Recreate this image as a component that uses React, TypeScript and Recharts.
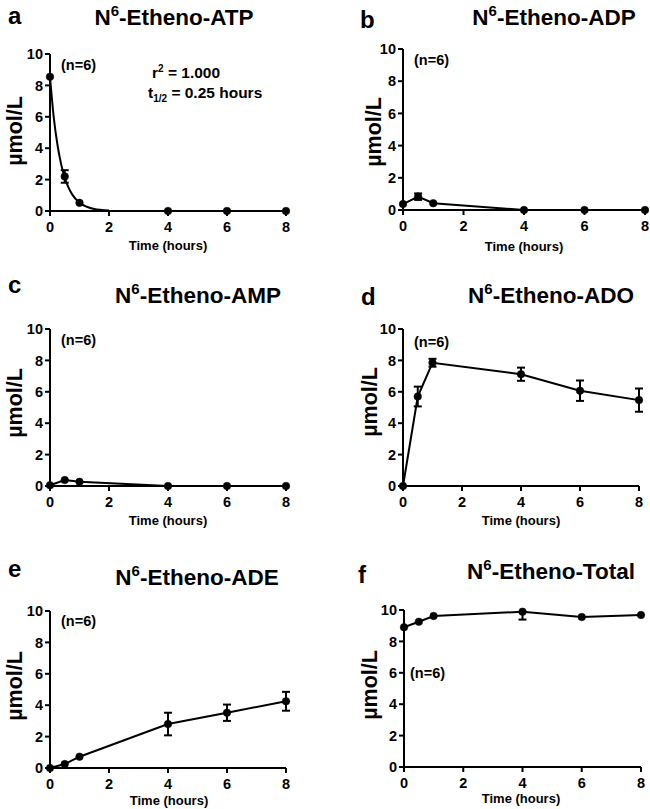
import React from 'react';
import { LineChart, Line, XAxis, YAxis, ErrorBar } from 'recharts';

const timeHours = [0, 0.5, 1, 4, 6, 8];
const xTicks = [0, 2, 4, 6, 8];
const yTicks = [0, 2, 4, 6, 8, 10];

const atpMean = [8.55, 2.2, 0.52, 0, 0, 0];
const atpErr = [null, 0.4, null, null, null, null];
const atpFitTime = [0, 0.125, 0.25, 0.375, 0.5, 0.625, 0.75, 1, 1.25, 1.5, 1.75, 2];
const atpFitValue = [8.55, 6.0, 4.25, 3.0, 2.12, 1.5, 1.06, 0.53, 0.27, 0.13, 0.07, 0.03];

const adpMean = [0.37, 0.83, 0.42, 0, 0, 0];
const adpErr = [null, 0.2, null, null, null, null];

const ampMean = [0.05, 0.38, 0.27, 0, 0, 0];
const ampErr = [null, null, null, null, null, null];

const adoMean = [0, 5.7, 7.85, 7.12, 6.07, 5.47];
const adoErr = [null, 0.63, 0.25, 0.42, 0.65, 0.74];

const adeMean = [0, 0.25, 0.72, 2.8, 3.52, 4.25];
const adeErr = [null, null, null, 0.72, 0.52, 0.6];

const totalMean = [8.9, 9.25, 9.62, 9.89, 9.55, 9.68];
const totalErr: any[] = [null, null, null, [0.5, 0], null, null];

const FONT = '"Liberation Sans", Arial, Helvetica, sans-serif';

const build = (mean: number[], err: any[]) =>
  timeHours.map((t, i) => ({ t, v: mean[i], e: err[i] }));

type PanelCfg = {
  key: string;
  letter: string;
  title: string;
  panelX: number;
  plot: [number, number, number, number]; // left, right, top, bottom
  data: { t: number; v: number; e: any }[];
  connect: boolean;
  fit?: { t: number; v: number }[];
  letterPos: [number, number];
  titlePos: [number, number];
  nPos: [number, number];
  yLabPos: [number, number];
  xLabPos: [number, number];
};

const panels: PanelCfg[] = [
  {
    key: 'a', letter: 'a', title: 'ATP', panelX: 0, plot: [50, 286, 54, 211],
    data: build(atpMean, atpErr), connect: false,
    fit: atpFitTime.map((t, i) => ({ t, v: atpFitValue[i] })),
    letterPos: [8, 24], titlePos: [174, 25], nPos: [61, 65], yLabPos: [15, 131], xLabPos: [168, 245],
  },
  {
    key: 'b', letter: 'b', title: 'ADP', panelX: 325, plot: [403, 645, 49, 210],
    data: build(adpMean, adpErr), connect: true,
    letterPos: [360, 28], titlePos: [554, 25], nPos: [414, 60], yLabPos: [374, 132], xLabPos: [524, 246],
  },
  {
    key: 'c', letter: 'c', title: 'AMP', panelX: 0, plot: [50, 286, 329, 486],
    data: build(ampMean, ampErr), connect: true,
    letterPos: [8, 293], titlePos: [198, 303], nPos: [61, 340], yLabPos: [15, 403], xLabPos: [168, 520],
  },
  {
    key: 'd', letter: 'd', title: 'ADO', panelX: 325, plot: [403, 639, 329, 486],
    data: build(adoMean, adoErr), connect: true,
    letterPos: [361, 305], titlePos: [551, 303], nPos: [414, 342], yLabPos: [370, 402], xLabPos: [521, 520],
  },
  {
    key: 'e', letter: 'e', title: 'ADE', panelX: 0, plot: [50, 286, 611, 768],
    data: build(adeMean, adeErr), connect: true,
    letterPos: [8, 577], titlePos: [197, 585], nPos: [61, 621], yLabPos: [15, 686], xLabPos: [169, 800],
  },
  {
    key: 'f', letter: 'f', title: 'Total', panelX: 325, plot: [404, 641, 610, 767],
    data: build(totalMean, totalErr), connect: true,
    letterPos: [358, 583], titlePos: [551, 579], nPos: [410, 673], yLabPos: [370, 685], xLabPos: [521, 798],
  },
];

const tickStyle = { fontSize: 14.5, fontWeight: 'bold', fill: '#000', fontFamily: FONT } as any;

function Panel({ cfg }: { cfg: PanelCfg }) {
  const [pl, pr, pt, pb] = cfg.plot;
  const mTop = 10;
  const xH = 30;
  const mBottom = 2;
  const width = 325;
  const top = pt - mTop;
  const height = pb - pt + mTop + xH + mBottom;
  const yW = pl - cfg.panelX;
  const mRight = cfg.panelX + width - pr;
  return (
    <div style={{ position: 'absolute', left: cfg.panelX, top, width, height }}>
      <LineChart
        width={width}
        height={height}
        margin={{ top: mTop, right: mRight, bottom: mBottom, left: 0 }}
      >
        <XAxis
          type="number"
          dataKey="t"
          domain={[0, 8]}
          ticks={xTicks}
          interval={0}
          height={xH}
          axisLine={{ stroke: '#000', strokeWidth: 2 }}
          tickLine={{ stroke: '#000', strokeWidth: 2 }}
          tickSize={5}
          tickMargin={6}
          tick={tickStyle}
        />
        <YAxis
          type="number"
          domain={[0, 10]}
          ticks={yTicks}
          interval={0}
          width={yW}
          axisLine={{ stroke: '#000', strokeWidth: 2 }}
          tickLine={{ stroke: '#000', strokeWidth: 2 }}
          tickSize={5}
          tickMargin={2}
          tick={tickStyle}
        />
        {cfg.fit && (
          <Line
            data={cfg.fit}
            dataKey="v"
            type="monotone"
            stroke="#000"
            strokeWidth={2}
            dot={false}
            activeDot={false}
            isAnimationActive={false}
          />
        )}
        <Line
          data={cfg.data}
          dataKey="v"
          type="linear"
          stroke={cfg.connect ? '#000' : 'none'}
          strokeWidth={2}
          dot={{ r: 3.8, fill: '#000', stroke: '#000', strokeWidth: 0.5 }}
          activeDot={false}
          isAnimationActive={false}
        >
          <ErrorBar dataKey="e" direction="y" width={4} stroke="#000" strokeWidth={2} />
        </Line>
      </LineChart>
    </div>
  );
}

function Overlay() {
  const bold = { fontFamily: FONT, fontWeight: 'bold', fill: '#000' } as any;
  return (
    <svg
      width={650}
      height={809}
      style={{ position: 'absolute', left: 0, top: 0, pointerEvents: 'none' }}
    >
      {panels.map((p) => (
        <g key={p.key}>
          <text x={p.letterPos[0]} y={p.letterPos[1]} fontSize={24} {...bold}>
            {p.letter}
          </text>
          <text x={p.titlePos[0]} y={p.titlePos[1]} fontSize={22.5} textAnchor="middle" {...bold}>
            N<tspan dy={-9} fontSize={15}>6</tspan>
            <tspan dy={9}>{'-Etheno-' + p.title}</tspan>
          </text>
          <text x={p.nPos[0]} y={p.nPos[1]} fontSize={14.5} dominantBaseline="central" {...bold}>
            (n=6)
          </text>
          <text
            x={p.yLabPos[0]}
            y={p.yLabPos[1]}
            fontSize={21.5}
            textAnchor="middle"
            dominantBaseline="central"
            transform={`rotate(-90 ${p.yLabPos[0]} ${p.yLabPos[1]})`}
            {...bold}
          >
            µmol/L
          </text>
          <text
            x={p.xLabPos[0]}
            y={p.xLabPos[1]}
            fontSize={13}
            textAnchor="middle"
            dominantBaseline="central"
            {...bold}
          >
            Time (hours)
          </text>
        </g>
      ))}
      <text x={152} y={78} fontSize={15.5} {...bold}>
        r<tspan dy={-6} fontSize={10}>2</tspan>
        <tspan dy={6}> = 1.000</tspan>
      </text>
      <text x={148} y={98} fontSize={15.5} {...bold}>
        t<tspan dy={4} fontSize={10}>1/2</tspan>
        <tspan dy={-4}> = 0.25 hours</tspan>
      </text>
    </svg>
  );
}

export default function App() {
  return (
    <div
      style={{
        position: 'absolute',
        left: 0,
        top: 0,
        width: 650,
        height: 809,
        background: '#fff',
        overflow: 'hidden',
      }}
    >
      {panels.map((p) => (
        <Panel key={p.key} cfg={p} />
      ))}
      <Overlay />
    </div>
  );
}
